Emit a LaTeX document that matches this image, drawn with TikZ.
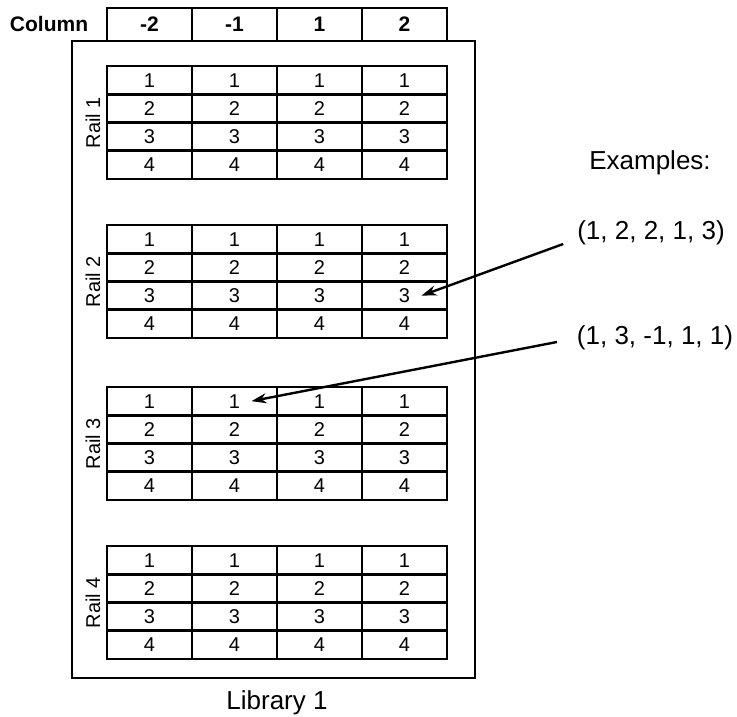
\documentclass[tikz,border=0pt]{standalone}
\usepackage{fontspec}
\setmainfont{Liberation Sans}
\usetikzlibrary{arrows.meta}

\tikzset{
  cell/.style = {font=\fontsize{10}{12}\selectfont, inner sep=5pt},
  head/.style = {font=\bfseries\fontsize{10.5}{12}\selectfont},
  big/.style = {font=\fontsize{13}{15}\selectfont},
  pointer/.style = {-{Stealth[length=7.5pt,width=5pt]}, line width=1.2pt}
}

\begin{document}
\begin{tikzpicture}[x = 0.5pt, y = -0.5pt, line width = 1.4pt]
\useasboundingbox (0,0) rectangle (737,716);
% column header
\draw (107,8) rectangle (447,41);
\foreach \x in {192,277,362} \draw (\x,8) -- (\x,41);
\node [head] (column) at (49,24) {Column};
\foreach \c [count=\i] in {-2,-1,1,2}
  \node [head] (col\i) at (64.5+85*\i,24) {\c};
% library frame
\draw (72,41) rectangle (475,678);
\node [big] (library) at (277,703) {Library 1};
% rails
\foreach \r/\t in {1/66, 2/225, 3/387, 4/546} {
  \draw (107,\t) rectangle (447,\t+113);
  \foreach \k in {1,2,3} \draw (107,\t+28.25*\k) -- (447,\t+28.25*\k);
  \foreach \x in {192,277,362} \draw (\x,\t) -- (\x,\t+113);
  \node [cell, rotate=90] (rail\r) at (93,\t+56.5) {Rail \r};
  \foreach \c in {1,...,4}
    \foreach \n in {1,...,4}
      \node [cell] (r\r-\c-\n) at (64.5+85*\c,\t+28.25*\n-14.1) {\n};
}
% examples
\node [big] (examples) at (650,163) {Examples:};
\node [big] (ex1) at (651,233) {(1, 2, 2, 1, 3)};
\node [big] (ex2) at (655,338) {(1, 3, -1, 1, 1)};
\draw [pointer] ([shift={(-6,11)}]ex1.west) -- (r2-4-3.east);
\draw [pointer] ([shift={(-12,4)}]ex2.west) -- (r3-2-1.east);
\end{tikzpicture}
\end{document}
